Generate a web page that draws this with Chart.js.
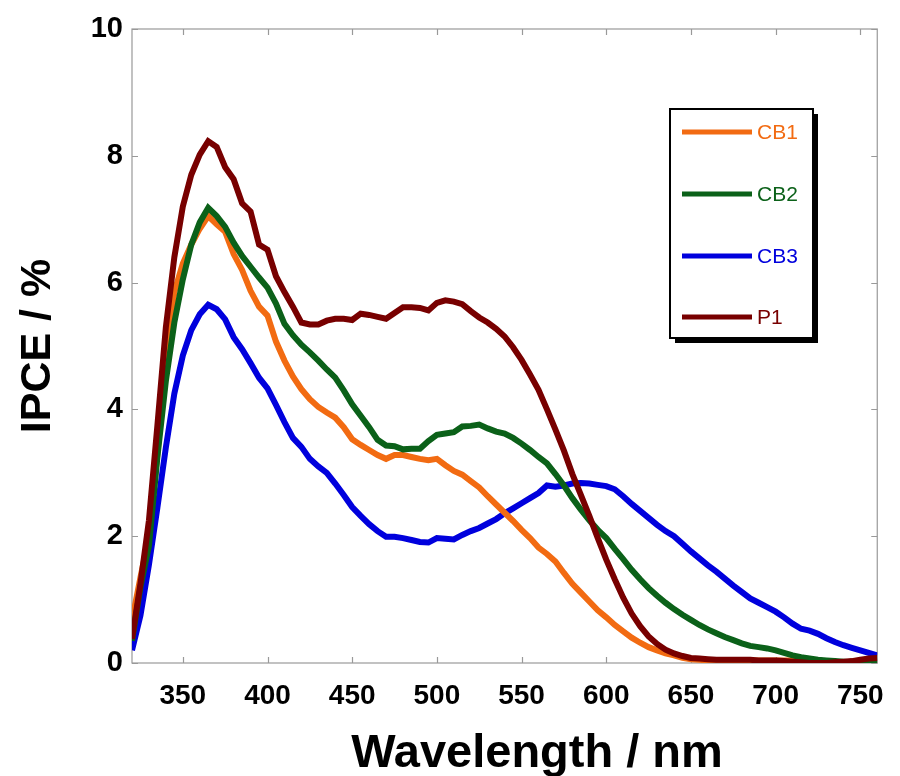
<!DOCTYPE html>
<html>
<head>
<meta charset="utf-8">
<script src="https://cdn.jsdelivr.net/npm/chart.js@4.4.1/dist/chart.umd.min.js"></script>
<style>
html,body{margin:0;padding:0;background:#fff;}
#wrap{width:900px;height:776px;}
</style>
</head>
<body>
<div id="wrap"><canvas id="c" width="900" height="776"></canvas></div>
<script>
const wavelengths = [];
for (let w = 320; w <= 760; w += 5) wavelengths.push(w);

const cb1 = [0.67,1.35,2.0,3.3,4.75,5.85,6.3,6.6,6.85,7.05,6.92,6.8,6.45,6.2,5.87,5.62,5.48,5.07,4.77,4.52,4.32,4.16,4.04,3.95,3.87,3.72,3.53,3.44,3.36,3.28,3.22,3.28,3.28,3.25,3.22,3.20,3.22,3.12,3.03,2.97,2.87,2.77,2.63,2.50,2.37,2.24,2.10,1.97,1.82,1.72,1.60,1.42,1.25,1.11,0.97,0.83,0.72,0.60,0.50,0.40,0.32,0.25,0.20,0.15,0.12,0.08,0.06,0.05,0.04,0.04,0.04,0.04,0.04,0.04,0.04,0.04,0.04,0.04,0.04,0.03,0.03,0.02,0.02,0.02,0.01,0.01,0.01,0.01,0.01];
const cb2 = [0.35,1.2,1.85,3.25,4.45,5.37,6.05,6.6,6.95,7.18,7.05,6.88,6.63,6.42,6.25,6.08,5.92,5.67,5.35,5.17,5.02,4.9,4.77,4.63,4.5,4.3,4.08,3.9,3.72,3.52,3.43,3.42,3.37,3.38,3.38,3.5,3.6,3.62,3.64,3.73,3.74,3.76,3.70,3.65,3.62,3.55,3.46,3.36,3.25,3.15,2.98,2.8,2.6,2.42,2.25,2.1,1.97,1.8,1.64,1.47,1.32,1.18,1.06,0.95,0.85,0.76,0.68,0.6,0.53,0.47,0.41,0.36,0.31,0.27,0.25,0.23,0.2,0.16,0.12,0.09,0.07,0.05,0.04,0.03,0.02,0.01,0.01,0.02,0.03];
const cb3 = [0.2,0.75,1.55,2.45,3.4,4.25,4.85,5.25,5.5,5.65,5.58,5.42,5.14,4.95,4.73,4.5,4.33,4.07,3.8,3.55,3.41,3.22,3.1,3.0,2.83,2.65,2.46,2.32,2.19,2.08,1.99,1.99,1.97,1.94,1.91,1.90,1.97,1.96,1.95,2.02,2.08,2.13,2.2,2.27,2.36,2.44,2.52,2.6,2.68,2.8,2.78,2.8,2.83,2.84,2.83,2.81,2.79,2.74,2.63,2.51,2.4,2.29,2.18,2.08,2.0,1.88,1.76,1.65,1.54,1.44,1.33,1.22,1.12,1.02,0.95,0.88,0.81,0.72,0.62,0.54,0.51,0.46,0.39,0.33,0.28,0.24,0.2,0.16,0.12];
const p1 = [0.38,1.25,2.25,3.75,5.3,6.4,7.2,7.7,8.02,8.23,8.14,7.82,7.63,7.25,7.12,6.6,6.52,6.1,5.85,5.62,5.37,5.34,5.34,5.40,5.43,5.43,5.41,5.51,5.49,5.46,5.43,5.52,5.61,5.61,5.60,5.56,5.68,5.72,5.70,5.66,5.55,5.45,5.37,5.27,5.15,4.98,4.78,4.55,4.31,4.0,3.68,3.35,2.98,2.65,2.32,1.97,1.63,1.32,1.03,0.78,0.58,0.42,0.3,0.21,0.15,0.11,0.08,0.07,0.06,0.05,0.05,0.05,0.05,0.05,0.04,0.04,0.04,0.03,0.02,0.01,0.0,0.0,0.0,0.01,0.02,0.03,0.05,0.07,0.08];

const seriesNames = ['CB1','CB2','CB3','P1'];
const seriesColors = ['#F26B12','#0B6119','#0000DD','#780000'];
const seriesValues = [cb1, cb2, cb3, p1];

const xTicks = [350,400,450,500,550,600,650,700,750];
const yTicks = [0,2,4,6,8,10];
const xTitle = 'Wavelength / nm';
const yTitle = 'IPCE / %';

const FONT = '"Liberation Sans", Arial, sans-serif';

const datasets = seriesNames.map((name, i) => ({
  label: name,
  data: wavelengths.map((w, j) => ({x: w, y: seriesValues[i][j]})),
  borderColor: seriesColors[i],
  backgroundColor: seriesColors[i],
  borderWidth: 6,
  pointRadius: 0,
  tension: 0,
  fill: false
}));
// draw order: P1 on top as in reference
const drawOrder = [2,0,1,3];
datasets.forEach((d, i) => { d.order = 10 - drawOrder.indexOf(i); });

const framePlugin = {
  id: 'frame',
  beforeDatasetsDraw(chart) {
    const {ctx, chartArea: a, scales} = chart;
    ctx.save();
    ctx.strokeStyle = '#999';
    ctx.lineWidth = 1.2;
    ctx.strokeRect(a.left, a.top, a.right - a.left, a.bottom - a.top);
    ctx.beginPath();
    xTicks.forEach(v => {
      const x = Math.round(scales.x.getPixelForValue(v)) + 0.5;
      ctx.moveTo(x, a.bottom); ctx.lineTo(x, a.bottom - 6);
      ctx.moveTo(x, a.top); ctx.lineTo(x, a.top + 6);
    });
    yTicks.forEach(v => {
      const y = Math.round(scales.y.getPixelForValue(v)) + 0.5;
      ctx.moveTo(a.left, y); ctx.lineTo(a.left + 6, y);
      ctx.moveTo(a.right, y); ctx.lineTo(a.right - 6, y);
    });
    ctx.stroke();
    ctx.restore();
  },
  afterDraw(chart) {
    const {ctx, chartArea: a} = chart;
    ctx.save();
    // axis titles
    ctx.fillStyle = '#000';
    ctx.font = 'bold 47px ' + FONT;
    ctx.textAlign = 'center';
    ctx.textBaseline = 'alphabetic';
    ctx.fillText(xTitle, 537, 767);
    ctx.translate(50, (a.top + a.bottom) / 2);
    ctx.rotate(-Math.PI / 2);
    ctx.font = 'bold 43px ' + FONT;
    ctx.fillText(yTitle, 0, 0);
    ctx.restore();

    // legend box
    ctx.save();
    const bx = 670, by = 109, bw = 143, bh = 229;
    ctx.fillStyle = '#000';
    ctx.fillRect(bx + 5, by + 5, bw, bh);
    ctx.fillStyle = '#fff';
    ctx.fillRect(bx, by, bw, bh);
    ctx.strokeStyle = '#000';
    ctx.lineWidth = 2;
    ctx.strokeRect(bx, by, bw, bh);
    const rows = [132, 194, 256, 317];
    ctx.font = '21px ' + FONT;
    ctx.textAlign = 'left';
    ctx.textBaseline = 'middle';
    chart.data.datasets.forEach((d, i) => {
      ctx.strokeStyle = d.borderColor;
      ctx.lineWidth = 5;
      ctx.beginPath();
      ctx.moveTo(682, rows[i]); ctx.lineTo(752, rows[i]);
      ctx.stroke();
      ctx.fillStyle = d.borderColor;
      ctx.fillText(d.label, 757, rows[i] + 1);
    });
    ctx.restore();
  }
};

new Chart(document.getElementById('c'), {
  type: 'line',
  data: { datasets },
  options: {
    responsive: false,
    animation: false,
    events: [],
    layout: { padding: { left: 0, right: 14, top: 29, bottom: 0 } },
    plugins: { legend: { display: false }, tooltip: { enabled: false } },
    scales: {
      x: {
        type: 'linear', min: 320, max: 760,
        afterBuildTicks: s => { s.ticks = xTicks.map(v => ({value: v})); },
        afterFit: s => { s.height = 776 - 663; },
        grid: { display: false, drawTicks: false },
        border: { display: false },
        ticks: { color: '#000', font: { family: FONT, size: 28, weight: 'bold' }, padding: 16, maxRotation: 0, autoSkip: false }
      },
      y: {
        type: 'linear', min: 0, max: 10,
        afterBuildTicks: s => { s.ticks = yTicks.map(v => ({value: v})); },
        afterFit: s => { s.width = 132; },
        grid: { display: false, drawTicks: false },
        border: { display: false },
        ticks: { color: '#000', font: { family: FONT, size: 29, weight: 'bold' }, padding: 9 }
      }
    }
  },
  plugins: [framePlugin]
});
</script>
</body>
</html>
